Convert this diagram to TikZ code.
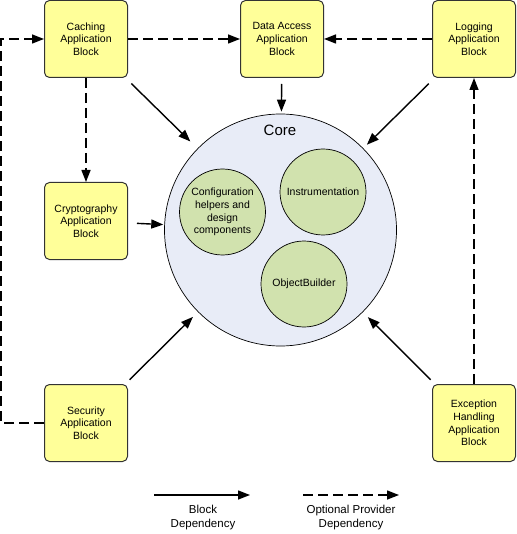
\documentclass[tikz,border=0pt]{standalone}
\usepackage{fontspec}
\setmainfont{Liberation Sans}
\usetikzlibrary{arrows.meta}
\definecolor{boxyellow}{HTML}{FFFF99}
\definecolor{coreblue}{HTML}{E8ECF7}
\definecolor{innergreen}{HTML}{D1E2AE}
\begin{document}
\begin{tikzpicture}[x=1pt,y=-1pt,
  blockbox/.style={draw=black!80, line width=1pt, rounded corners=5pt, fill=boxyellow,
    minimum width=83pt, minimum height=77pt, inner sep=0pt, align=center,
    font=\fontsize{10.5}{12.7}\selectfont},
  innercircle/.style={circle, draw=black, line width=0.7pt, fill=innergreen,
    minimum size=86pt, inner sep=0pt, align=center, font=\fontsize{10.5}{12.7}\selectfont},
  dep/.style={line width=1.4pt, -{Triangle[length=12pt,width=9pt]}},
  optdep/.style={line width=1.4pt, dash pattern=on 10pt off 5pt, -{Triangle[length=12pt,width=9pt]}},
  legendtext/.style={align=center, font=\fontsize{11.5}{14}\selectfont}
]
\useasboundingbox (0,0) rectangle (516,534);

% Core
\node[circle, draw=black, line width=0.7pt, fill=coreblue, minimum size=232pt, inner sep=0pt] (core) at (280.5,230) {};
\node[font=\fontsize{15}{18}\selectfont] (corelabel) at (280,130) {Core};
\node[innercircle] (config) at (222.5,212) {Configuration\\helpers and\\design\\components};
\node[innercircle] (instr) at (323,192) {Instrumentation};
\node[innercircle] (objb) at (304,284) {ObjectBuilder};

% Blocks
\node[blockbox] (caching) at (86,39) {Caching\\Application\\Block};
\node[blockbox] (data) at (282,39) {Data Access\\Application\\Block};
\node[blockbox] (logging) at (474,39) {Logging\\Application\\Block};
\node[blockbox] (crypto) at (86,221) {Cryptography\\Application\\Block};
\node[blockbox] (security) at (86,423) {Security\\Application\\Block};
\node[blockbox] (exception) at (474,423) {Exception\\Handling\\Application\\Block};

% Block dependencies
\draw[dep, shorten <=8pt, shorten >=10pt] (caching) -- (core);
\draw[dep, shorten <=6pt, shorten >=2pt] (data) -- (core);
\draw[dep, shorten <=8pt, shorten >=5pt] (logging) -- (core);
\draw[dep, shorten <=9pt, shorten >=1pt] (crypto) -- (core);
\draw[dep, shorten <=6pt, shorten >=7pt] (security) -- (core);
\draw[dep, shorten <=6pt, shorten >=7pt] (exception) -- (core);

% Optional provider dependencies
\draw[optdep] (caching.east) -- (data.west);
\draw[optdep] (logging.west) -- (data.east);
\draw[optdep] (caching.south) -- (crypto.north);
\draw[optdep] (security.west) -- ++(-43,0) |- (caching.west);
\draw[optdep] (exception.north) -- (logging.south);

% Legend
\coordinate (ls1) at (154,495);
\coordinate (le1) at (250,495);
\coordinate (ls2) at (303,495);
\coordinate (le2) at (399,495);
\draw[dep] (ls1) -- (le1);
\draw[optdep] (ls2) -- (le2);
\node[legendtext] (leg1) at (203,518) {Block\\Dependency};
\node[legendtext] (leg2) at (351,518) {Optional Provider\\Dependency};
\end{tikzpicture}
\end{document}
